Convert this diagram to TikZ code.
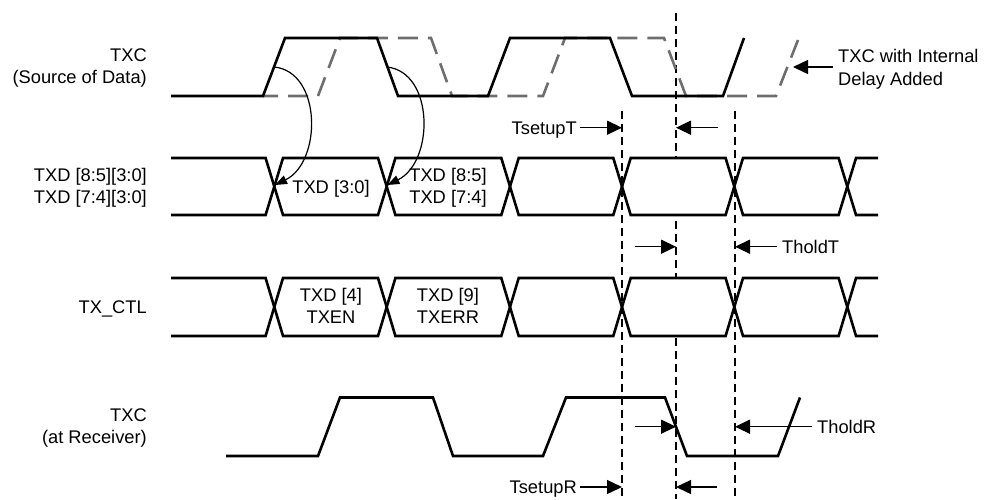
\documentclass[tikz,border=0pt]{standalone}
\usepackage{fontspec}
\setmainfont{Liberation Sans}
\usetikzlibrary{arrows.meta}
\definecolor{dgray}{RGB}{110,110,110}
\newcommand{\drawbus}[2]{%
  % #1 top y, #2 bottom y
  \foreach \a/\b in {171/274.3,274.3/386.7,386.7/510,510/622,622/734.3,734.3/847.3,847.3/878}{
    \fill[white] ({\a},{(#1+#2)/2}) -- ({\a+8.7},#1) -- ({\b-8.7},#1) -- ({\b},{(#1+#2)/2}) -- ({\b-8.7},#2) -- ({\a+8.7},#2) -- cycle;
  }
  \draw[wave] (171,#1) -- (265.6,#1) -- (283,#2) -- (378,#2) -- (395.4,#1) -- (501.3,#1) -- (518.7,#2) -- (613.3,#2) -- (630.7,#1) -- (725.6,#1) -- (743,#2) -- (838.6,#2) -- (856,#1) -- (878,#1);
  \draw[wave] (171,#2) -- (265.6,#2) -- (283,#1) -- (378,#1) -- (395.4,#2) -- (501.3,#2) -- (518.7,#1) -- (613.3,#1) -- (630.7,#2) -- (725.6,#2) -- (743,#1) -- (838.6,#1) -- (856,#2) -- (878,#2);
}
\begin{document}
\begin{tikzpicture}[x=1pt,y=-1pt,
  wave/.style={line width=2.6pt},
  delayed/.style={line width=2.6pt, draw=dgray, dash pattern=on 20pt off 10pt, dash phase=5pt},
  guide/.style={line width=1.3pt, dash pattern=on 8pt off 5pt},
  dimarrow/.style={line width=1.4pt, -{Triangle[length=15pt,width=14pt]}},
  curvearrow/.style={line width=1.2pt, -{Triangle[length=12pt,width=9pt]}},
  lbl/.style={inner sep=0pt, font=\fontsize{18.3}{22.5}\selectfont},
]
\useasboundingbox (0,0) rectangle (985,499);

% guide lines
\coordinate (gA) at (622,111);  \coordinate (gAb) at (622,499);
\coordinate (gB) at (676,13);   \coordinate (gBb) at (676,499);
\coordinate (gC) at (735,111);  \coordinate (gCb) at (735,499);
\draw[guide] (gA) -- (gAb);
\draw[guide] (gB) -- (gBb);
\draw[guide] (gC) -- (gCb);

% TXC source (delayed version dashed)
\draw[delayed] (263,96) -- (318,96) -- (340,38) -- (431,38) -- (452,96) -- (543,96) -- (565,38) -- (664,38) -- (686,96) -- (776,96) -- (798,40);
\draw[wave] (171,96) -- (263,96) -- (285,38) -- (377,38) -- (398,96) -- (488,96) -- (510,38) -- (610,38) -- (632,96) -- (723,96) -- (744,38);

% buses
\drawbus{158}{215}
\drawbus{278}{336}

% TXC at receiver
\draw[wave] (226,456) -- (318,456) -- (340,397.5) -- (433,397.5) -- (453,456) -- (543,456) -- (566,397.5) -- (665,397.5) -- (687,456) -- (778,456) -- (800,397.5);

% curved arrows
\coordinate (cs1) at (274.3,67);  \coordinate (ce1) at (275,185);
\coordinate (cs2) at (386.9,67);  \coordinate (ce2) at (387.4,185);
\draw[curvearrow] (cs1) .. controls (322,72) and (322,162) .. (ce1);
\draw[curvearrow] (cs2) .. controls (434.4,72) and (434.4,162) .. (ce2);

% left labels
\node[lbl, align=right, anchor=east] (lTXC) at (147,68.2) {TXC\\(Source of Data)};
\node[lbl, align=right, anchor=east] (lTXD) at (147,188) {TXD [8:5][3:0]\\TXD [7:4][3:0]};
\node[lbl, anchor=base east] (lCTL) at (147,313.3) {TX\_CTL};
\node[lbl, align=right, anchor=east] (lRX) at (147,428.2) {TXC\\(at Receiver)};

% bus labels
\node[lbl, anchor=base] (d1) at (331,193.2) {TXD [3:0]};
\node[lbl, align=center] (d2) at (448,188) {TXD [8:5]\\TXD [7:4]};
\node[lbl, align=center] (c1) at (331,306.1) {TXD [4]\\TXEN};
\node[lbl, align=center] (c2) at (448,306.1) {TXD [9]\\TXERR};

% delay annotation
\node[lbl, align=left, anchor=west] (dly) at (838,69.5) {TXC with Internal\\Delay Added};
\coordinate (dlyA) at (833,67); \coordinate (dlyB) at (793,67);
\draw[dimarrow] (dlyA) -- (dlyB);

% TsetupT
\node[lbl, anchor=base east] (tsuT) at (577,134) {TsetupT};
\coordinate (tsuTa) at (580,127.7); \coordinate (tsuTb) at (622,127.7);
\coordinate (tsuTc) at (718,127.7); \coordinate (tsuTd) at (676,127.7);
\draw[dimarrow] (tsuTa) -- (tsuTb);
\draw[dimarrow] (tsuTc) -- (tsuTd);

% TholdT
\node[lbl, anchor=base west] (thT) at (782,253.2) {TholdT};
\coordinate (thTa) at (635,246.7); \coordinate (thTb) at (676,246.7);
\coordinate (thTc) at (777,246.7); \coordinate (thTd) at (735,246.7);
\draw[dimarrow] (thTa) -- (thTb);
\draw[dimarrow] (thTc) -- (thTd);

% TholdR
\node[lbl, anchor=base west] (thR) at (817,433.2) {TholdR};
\coordinate (thRa) at (635,426.7); \coordinate (thRb) at (676,426.7);
\coordinate (thRc) at (812,426.7); \coordinate (thRd) at (735,426.7);
\draw[dimarrow] (thRa) -- (thRb);
\draw[dimarrow] (thRc) -- (thRd);

% TsetupR
\node[lbl, anchor=base east] (tsuR) at (577,493.5) {TsetupR};
\coordinate (tsuRa) at (580,487); \coordinate (tsuRb) at (622,487);
\coordinate (tsuRc) at (717,487); \coordinate (tsuRd) at (676,487);
\draw[dimarrow] (tsuRa) -- (tsuRb);
\draw[dimarrow] (tsuRc) -- (tsuRd);
\end{tikzpicture}
\end{document}
